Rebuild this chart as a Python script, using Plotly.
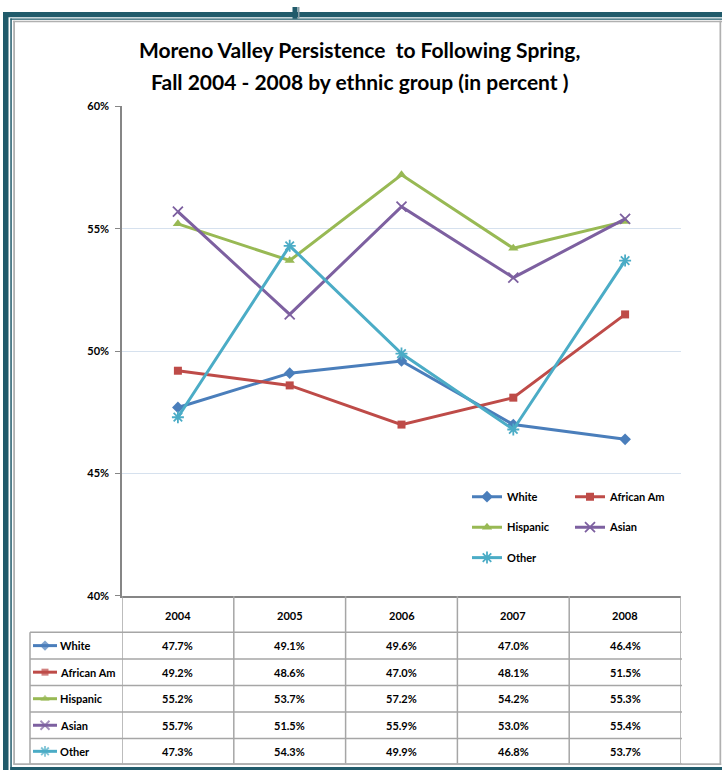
import plotly.graph_objects as go

# ---------------- data ----------------
years = ["2004", "2005", "2006", "2007", "2008"]
white = [47.7, 49.1, 49.6, 47.0, 46.4]
african_am = [49.2, 48.6, 47.0, 48.1, 51.5]
hispanic = [55.2, 53.7, 57.2, 54.2, 55.3]
asian = [55.7, 51.5, 55.9, 53.0, 55.4]
other = [47.3, 54.3, 49.9, 46.8, 53.7]
series_names = ["White", "African Am", "Hispanic", "Asian", "Other"]
title_lines = ["Moreno Valley Persistence  to Following Spring,",
               "Fall 2004 - 2008 by ethnic group (in percent )"]
y_ticks = [40, 45, 50, 55, 60]
y_ticktext = ["40%", "45%", "50%", "55%", "60%"]

# ---------------- styles ----------------
W, H = 722, 776
FONT = "Lato, Liberation Sans Narrow, sans-serif"
colors = ["#4a7ebb", "#be4b48", "#98b954", "#7d60a0", "#4bacc6"]
symbols = ["diamond", "square", "triangle-up", "x-thin", "asterisk"]
msizes = [9, 8, 9, 10, 10]
values = [white, african_am, hispanic, asian, other]
legends = ["legend", "legend", "legend2", "legend2", "legend3"]

def px(x):
    return x / W

def py(y):
    return 1 - y / H

fig = go.Figure()

for name, vals, c, s, ms, lg in zip(series_names, values, colors, symbols, msizes, legends):
    fig.add_trace(go.Scatter(
        x=years, y=vals, name=name, mode="lines+markers",
        line=dict(color=c, width=3),
        marker=dict(symbol=s, size=ms, color=c, line=dict(color=c, width=1.8 if s in ("x-thin", "asterisk") else 0)),
        legend=lg, xaxis="x", yaxis="y",
    ))

# table row layout (pixel positions)
row_tops = [636, 663, 690, 717, 744]
row_bottom = 770
header_y = 619
row_centers = [(row_tops[i] + (row_tops[i + 1] if i + 1 < len(row_tops) else row_bottom)) / 2 for i in range(len(row_tops))]

# icons in table row labels (pixel overlay axes)
for name, c, s, ms, yc in zip(series_names, colors, symbols, msizes, row_centers):
    fig.add_trace(go.Scatter(
        x=[33, 45, 57], y=[yc, yc, yc], mode="lines+markers", showlegend=False,
        line=dict(color=c, width=3),
        marker=dict(symbol=s, size=[0, ms - 1, 0], color=c,
                    line=dict(color=c, width=1.8 if s in ("x-thin", "asterisk") else 0)),
        xaxis="x2", yaxis="y2", hoverinfo="skip",
    ))

shapes = []
annotations = []

# table lines
tcol = "#a6a6a6"
for i in range(len(years) + 1):
    shapes.append(dict(type="line", xref="x", yref="paper", x0=i - 0.5, x1=i - 0.5,
                       y0=py(599), y1=py(row_bottom), line=dict(color=tcol, width=1.5)))
shapes.append(dict(type="line", xref="x2", yref="y2", x0=30, x1=30,
                   y0=row_tops[0], y1=row_bottom, line=dict(color=tcol, width=1.5)))
for yv in row_tops + [row_bottom]:
    shapes.append(dict(type="line", xref="x2", yref="y2", x0=30, x1=682,
                       y0=yv, y1=yv, line=dict(color=tcol, width=1.5)))

# table texts (x through the category axis by index)
tfont = dict(family=FONT, size=11, color="#000", weight="bold")
for i, yr in enumerate(years):
    annotations.append(dict(xref="x", yref="paper", x=i, y=py(header_y), text=yr, showarrow=False,
                            xanchor="center", yanchor="middle", font=tfont))
for name, vals, yc in zip(series_names, values, row_centers):
    annotations.append(dict(xref="x2", yref="y2", x=58, y=yc, text=name, showarrow=False,
                            xanchor="left", yanchor="middle", font=tfont))
    for i, v in enumerate(vals):
        annotations.append(dict(xref="x", yref="paper", x=i, y=py(yc), text=f"{v:.1f}%", showarrow=False,
                                xanchor="center", yanchor="middle", font=tfont))

# title
for i, t in enumerate(title_lines):
    annotations.append(dict(xref="x2", yref="y2", x=359, y=43 + 33 * i, text=t, showarrow=False,
                            font=dict(family=FONT, size=21, color="#000", weight="bold")))

# frame decoration
teal = "#215b6b"
gray = "#b0b0b0"
def rect(x0, y0, x1, y1, col):
    shapes.append(dict(type="rect", xref="x2", yref="y2", x0=x0, x1=x1, y0=y0, y1=y1,
                       fillcolor=col, line=dict(width=0), layer="above"))
rect(3, 5, 8.5, 776, teal)
rect(3, 5, 722, 10.5, teal)
rect(10.3, 11.8, 11.8, 776, teal)
rect(10.3, 11.8, 722, 13, teal)
rect(13.2, 14, 15, 770, gray)
rect(13.2, 14, 722, 15.5, gray)
rect(719.5, 14, 721.2, 771, gray)
rect(13.2, 769.2, 721.2, 771, gray)
rect(10.3, 773, 722, 776, teal)
rect(292.5, 0, 297.5, 12, teal)
rect(298, 0, 299.5, 12, "#8a9ea5")

leg_common = dict(orientation="h", xanchor="left", yanchor="middle", bgcolor="rgba(0,0,0,0)",
                  font=dict(family=FONT, size=11, color="#000", weight="bold"),
                  entrywidth=58, entrywidthmode="pixels", itemwidth=30, tracegroupgap=0)

fig.update_layout(
    width=W, height=H,
    margin=dict(l=0, r=0, t=0, b=0),
    paper_bgcolor="white", plot_bgcolor="rgba(0,0,0,0)",
    font=dict(family=FONT, size=11, color="#000"),
    xaxis=dict(domain=[px(122), px(681)], type="category", range=[-0.5, 4.5],
               showticklabels=False, ticks="", showgrid=False, zeroline=False,
               showline=True, linecolor="#868686", linewidth=1.5, anchor="y", fixedrange=True),
    yaxis=dict(domain=[py(599), py(101)], range=[40, 60], tickmode="array",
               tickvals=y_ticks, ticktext=y_ticktext,
               showgrid=True, gridcolor="#d6e1ee", gridwidth=1, zeroline=False,
               showline=True, linecolor="#868686", linewidth=1.5,
               ticks="outside", ticklen=5, tickcolor="#868686", ticklabelstandoff=4,
               tickfont=dict(family=FONT, size=11, color="#000", weight="bold"),
               anchor="x", fixedrange=True),
    xaxis2=dict(domain=[0, 1], range=[0, W], visible=False, anchor="y2", fixedrange=True),
    yaxis2=dict(domain=[0, 1], range=[H, 0], visible=False, anchor="x2", fixedrange=True),
    legend=dict(x=px(467), y=py(498), **leg_common),
    legend2=dict(x=px(467), y=py(529), **leg_common),
    legend3=dict(x=px(467), y=py(560), **leg_common),
    shapes=shapes, annotations=annotations,
    showlegend=True,
)

fig.write_html("out.html", config={"displayModeBar": False},
               post_script="document.body.style.margin='0';document.body.style.overflow='hidden';")
